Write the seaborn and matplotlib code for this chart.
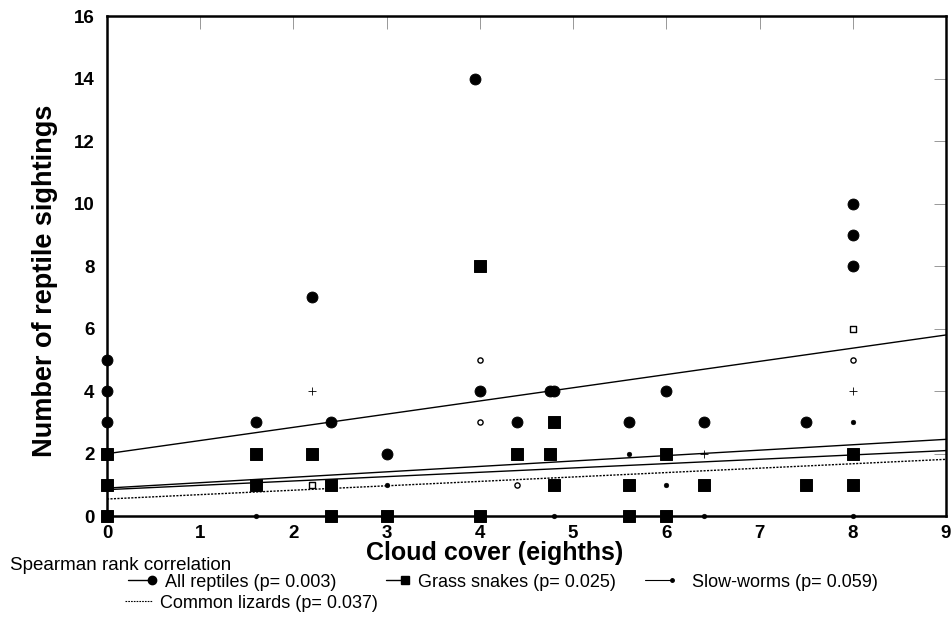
import matplotlib
matplotlib.use("Agg")
import matplotlib.pyplot as plt
import seaborn as sns
import pandas as pd
from matplotlib.lines import Line2D
from matplotlib.legend_handler import HandlerLine2D

sns.set_theme(style="white")
plt.rcParams['font.family'] = ['Liberation Sans', 'DejaVu Sans']
plt.rcParams['text.color'] = 'black'
plt.rcParams['axes.labelcolor'] = 'black'
plt.rcParams['xtick.color'] = 'black'
plt.rcParams['ytick.color'] = 'black'

# ---- data ----
all_x = [0, 0, 0, 1.6, 2.2, 2.4, 3, 3.95, 4, 4.4, 4.75, 4.8, 5.6, 6, 6.4, 7.5, 8, 8, 8]
all_y = [5, 4, 3, 3, 7, 3, 2, 14, 4, 3, 4, 4, 3, 4, 3, 3, 10, 9, 8]

snake_x = [0, 0, 0, 1.6, 1.6, 2.2, 2.4, 2.4, 3, 4, 4, 4.4, 4.75, 4.8, 4.8, 5.6, 5.6, 6, 6, 6.4, 7.5, 8, 8]
snake_y = [2, 1, 0, 2, 1, 2, 1, 0, 0, 8, 0, 2, 2, 3, 1, 1, 0, 2, 0, 1, 1, 2, 1]

slow_x = [3, 5.6, 6, 8, 1.6, 4.8, 6.4, 8]
slow_y = [1, 2, 1, 3, 0, 0, 0, 0]

lizard_x = [2.2, 6.4, 8]
lizard_y = [4, 2, 4]

# small open symbols (coincident counts)
open_circ_x = [4, 4, 4.4, 8]
open_circ_y = [5, 3, 1, 5]
open_sq_x = [2.2, 8]
open_sq_y = [1, 6]

# regression lines: value at x=0 and x=9
fit_x = [0, 9]
fit_all = [2.0, 5.8]
fit_snake = [0.9, 2.46]
fit_slow = [0.85, 2.1]
fit_lizard = [0.55, 1.82]

labels = ["All reptiles (p= 0.003)", "Grass snakes (p= 0.025)",
          "Slow-worms (p= 0.059)", "Common lizards (p= 0.037)"]

x_ticks = list(range(0, 10))
y_ticks = list(range(0, 17, 2))


class EndMarkerHandler(HandlerLine2D):
    def create_artists(self, legend, orig_handle, xdescent, ydescent,
                       width, height, fontsize, trans):
        y = height / 2 - ydescent
        line = Line2D([-xdescent, width - xdescent], [y, y])
        self.update_prop(line, orig_handle, legend)
        line.set_markevery([1])
        line.set_transform(trans)
        return [line]


# ---- figure ----
fig = plt.figure(figsize=(9.52, 6.28), dpi=100)
ax = fig.add_axes([0.1124, 0.178, 0.8813, 0.7962])

lw = 1.0
sns.lineplot(x=fit_x, y=fit_all, ax=ax, color="black", lw=lw)
sns.lineplot(x=fit_x, y=fit_snake, ax=ax, color="black", lw=lw)
sns.lineplot(x=fit_x, y=fit_slow, ax=ax, color="black", lw=lw)
sns.lineplot(x=fit_x, y=fit_lizard, ax=ax, color="black", lw=lw, linestyle=(0, (1.5, 1)))

sns.scatterplot(x=all_x, y=all_y, ax=ax, color="black", marker="o", s=62,
                edgecolor="black", zorder=5, clip_on=False)
sns.scatterplot(x=snake_x, y=snake_y, ax=ax, color="black", marker="s", s=72,
                edgecolor="black", zorder=5, clip_on=False)
sns.scatterplot(x=slow_x, y=slow_y, ax=ax, color="black", marker="o", s=12,
                edgecolor="black", zorder=5, clip_on=False)
sns.scatterplot(x=lizard_x, y=lizard_y, ax=ax, color="black", marker="+", s=30,
                linewidth=0.6, zorder=5)
sns.scatterplot(x=open_circ_x, y=open_circ_y, ax=ax, facecolor="white", marker="o", s=14,
                edgecolor="black", linewidth=1.0, zorder=5)
sns.scatterplot(x=open_sq_x, y=open_sq_y, ax=ax, facecolor="white", marker="s", s=14,
                edgecolor="black", linewidth=1.0, zorder=5)

ax.set_xlim(0, 9)
ax.set_ylim(0, 16)
ax.set_xticks(x_ticks)
ax.set_yticks(y_ticks)
ax.tick_params(direction="in", length=9, width=0.6, color="#888888",
               labelcolor="black", top=True, right=True, labelsize=13.5)
ax.tick_params(axis="y", pad=9)
ax.tick_params(axis="x", pad=6)
for lab in ax.get_xticklabels() + ax.get_yticklabels():
    lab.set_fontweight("bold")
for sp in ax.spines.values():
    sp.set_visible(True)
    sp.set_color("black")
    sp.set_linewidth(1.8)

ax.set_xlabel("Cloud cover (eighths)", fontsize=18, fontweight="bold")
ax.xaxis.set_label_coords(0.462, -0.05)
ax.set_ylabel("Number of reptile sightings", fontsize=19.5, fontweight="bold")
ax.yaxis.set_label_coords(-0.058, 0.47)

# legend
fig.text(0.011, 0.1, "Spearman rank correlation", fontsize=13.5, va="center")
h_all = Line2D([], [], color="black", lw=1, marker="o", markersize=6)
h_snake = Line2D([], [], color="black", lw=1, marker="s", markersize=6)
h_slow = Line2D([], [], color="black", lw=0.8, marker="o", markersize=2.5)
h_liz = Line2D([], [], color="black", lw=0.8, linestyle=(0, (1.5, 1)))

entries = [
    (h_all, labels[0], 0.1345, 0.0732, 1.3, 0.75),
    (h_snake, labels[1], 0.405, 0.0732, 1.1, 0.7),
    (h_slow, labels[2], 0.6775, 0.0732, 1.5, 1.1),
    (h_liz, labels[3], 0.131, 0.0398, 1.5, 0.45),
]
for h, lab, x0, y0, hl, tp in entries:
    fig.legend([h], [lab], loc="center left", bbox_to_anchor=(x0, y0),
               frameon=False, fontsize=13, handlelength=hl, handletextpad=tp,
               handler_map={Line2D: EndMarkerHandler()},
               borderaxespad=0, borderpad=0)

fig.savefig("out.png", dpi=100)
